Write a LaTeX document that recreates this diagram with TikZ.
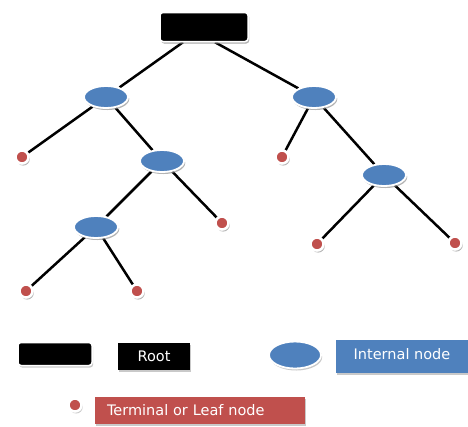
\documentclass[tikz,border=0pt]{standalone}
\usepackage{fontspec}
\setmainfont{DejaVu Sans}
\usetikzlibrary{shapes.geometric,shadows}
\definecolor{intblue}{RGB}{79,129,189}
\definecolor{leafred}{RGB}{192,80,77}
\begin{document}
\begin{tikzpicture}[x=1pt,y=-1pt,
  edge/.style={line width=2.5pt,black},
  sh/.style={drop shadow={shadow xshift=1.2pt,shadow yshift=-2pt,fill=black!35,opacity=0.6}},
  rootbox/.style={rectangle,rounded corners=3pt,fill=black,draw=white,line width=1.5pt,minimum width=88pt,minimum height=29pt,inner sep=0pt,sh},
  internal/.style={ellipse,fill=intblue,draw=white,line width=1.8pt,minimum width=44pt,minimum height=22pt,inner sep=0pt,sh},
  leaf/.style={circle,fill=leafred,draw=white,line width=2.5pt,minimum size=13pt,inner sep=0pt,sh},
  legtext/.style={rectangle,inner sep=0pt,font=\fontsize{14.5}{16}\selectfont,sh},
]
\useasboundingbox (0,0) rectangle (468,426);
\fill[white] (0,0) rectangle (468,426);
% tree nodes
\node[rootbox] (r) at (204,27) {};
\node[internal] (a) at (106,97) {};
\node[internal] (b) at (314,97) {};
\node[internal] (c) at (162,161) {};
\node[internal] (d) at (384,175) {};
\node[internal] (e) at (96,227) {};
\node[leaf] (l1) at (22,157) {};
\node[leaf] (l2) at (282,157) {};
\node[leaf] (l3) at (222,223) {};
\node[leaf] (l4) at (317,244) {};
\node[leaf] (l5) at (455,243) {};
\node[leaf] (l6) at (26,291) {};
\node[leaf] (l7) at (137,291) {};
% edges
\draw[edge] ([xshift=-21pt]r.south) -- (a);
\draw[edge] ([xshift=11pt]r.south) -- (b);
\draw[edge] (a) -- (l1);
\draw[edge] (a) -- (c);
\draw[edge] (b) -- (l2);
\draw[edge] (b) -- (d);
\draw[edge] (c) -- (e);
\draw[edge] (c) -- (l3);
\draw[edge] (d) -- (l4);
\draw[edge] (d) -- (l5);
\draw[edge] (e) -- (l6);
\draw[edge] (e) -- (l7);
% redraw nodes over edges
\node[rootbox] at (r) {};
\node[internal] at (a) {};
\node[internal] at (b) {};
\node[internal] at (c) {};
\node[internal] at (d) {};
\node[internal] at (e) {};
\foreach \n in {l1,l2,l3,l4,l5,l6,l7} \node[leaf] at (\n) {};
% legend
\node[rootbox,minimum width=74pt,minimum height=23pt] (kroot) at (55,354) {};
\node[legtext,fill=black,text=white,minimum width=72pt,minimum height=27pt] (troot) at (154,356) {Root};
\node[internal,minimum width=52pt,minimum height=27pt] (kint) at (295,355) {};
\node[legtext,fill=intblue,text=white,minimum width=132pt,minimum height=33pt,text depth=5pt] (tint) at (402,356) {Internal node};
\node[leaf] (kleaf) at (75,405) {};
\node[legtext,fill=leafred,text=white,minimum height=27pt,inner xsep=12pt,align=left,text width=186pt] (tleaf) at (200,410) {Terminal or Leaf node};
\end{tikzpicture}
\end{document}
